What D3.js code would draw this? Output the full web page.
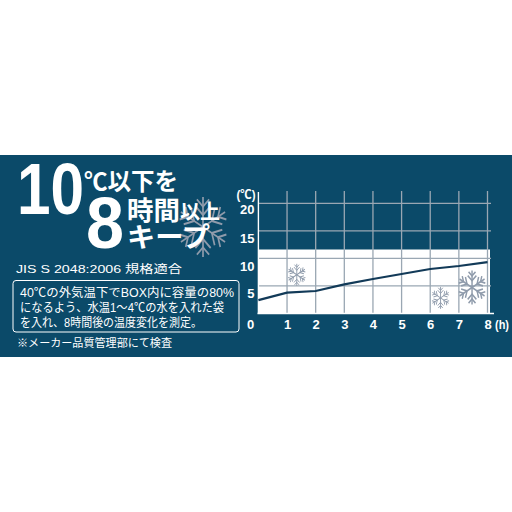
<!DOCTYPE html>
<html><head><meta charset="utf-8">
<script src="https://cdn.jsdelivr.net/npm/d3@7"></script>
<style>html,body{margin:0;background:#fff}svg{display:block}text{font-family:"Liberation Sans","Noto Sans CJK JP",sans-serif}</style>
</head><body><svg id="c" width="512" height="512"></svg>
<script>
const hours=[0,1,2,3,4,5,6,7,8];
const temps=[2.4,3.75,4.05,5.27,6.24,7.15,8.05,8.6,9.3];
const yTicks=[5,10,15,20];
const xTickLabels=["0","1","2","3","4","5","6","7","8"];
const yTickLabels=["5","10","15","20"];
const note=["40℃の外気温下でBOX内に容量の80%","になるよう、水温1～4℃の水を入れた袋","を入れ、8時間後の温度変化を測定。"];
const flakeX=[1.34,6.36,7.46];
const flakeY=[7.0,2.8,4.7];
const flakeR=[11,11,17];

const navy="#0b4a69", lineCol="#123a58", grid="#9aa7b3", flake="#8f9bab";
const svg=d3.select("#c");
svg.append("rect").attr("x",0).attr("y",155).attr("width",512).attr("height",202).attr("fill",navy);

const x=d3.scaleLinear().domain([0,8]).range([258.4,487.5]);
const y=d3.scaleLinear().domain([0,20]).range([313.3,203.3]);

function label(t,px,py,fs,opt={}){
  const s=svg.append("text").attr("x",px).attr("y",py).attr("font-size",fs).attr("fill",opt.fill||"#fff")
    .attr("font-weight",opt.w||"normal").attr("text-anchor",opt.a||"start").text(t);
  if(opt.len) s.attr("textLength",opt.len).attr("lengthAdjust","spacingAndGlyphs");
  return s;
}
function drawFlake(cx,cy,r,col,sw){
  const g=svg.append("g").attr("transform",`translate(${cx},${cy}) scale(0.85,1)`).attr("stroke",col).attr("fill","none").attr("stroke-width",sw);
  d3.range(6).forEach(i=>{
    const a=g.append("g").attr("transform",`rotate(${i*60})`);
    a.append("line").attr("x1",0).attr("y1",0).attr("x2",0).attr("y2",-r);
    [0.4,0.68].forEach(f=>{
      const b=r*(f<0.5?0.3:0.24);
      a.append("path").attr("d",`M${-b},${-r*f-b} L0,${-r*f} L${b},${-r*f-b}`);
    });
  });
}

// plot background
svg.append("rect").attr("x",x(0)).attr("y",249.5).attr("width",490-x(0)).attr("height",y(0)-249.5).attr("fill","#fff");

// grid
yTicks.forEach(v=>svg.append("line").attr("x1",x(0)).attr("x2",491).attr("y1",y(v)).attr("y2",y(v)).attr("stroke",grid).attr("stroke-width",1.2));
hours.slice(1).forEach(v=>svg.append("line").attr("x1",x(v)).attr("x2",x(v)).attr("y1",191).attr("y2",y(0)).attr("stroke",grid).attr("stroke-width",1.3));

// flakes
flakeX.forEach((v,i)=>drawFlake(x(v),y(flakeY[i]),flakeR[i],flake,i==2?1.7:1));

// axes
svg.append("line").attr("x1",x(0)).attr("x2",x(0)).attr("y1",192).attr("y2",313.5).attr("stroke","#fff").attr("stroke-width",1.4);
svg.append("line").attr("x1",257.5).attr("x2",494).attr("y1",313.5).attr("y2",313.5).attr("stroke","#fff").attr("stroke-width",1.4);

// series
svg.append("path").attr("d",d3.line().x((d,i)=>x(hours[i])).y(d=>y(d))(temps)).attr("fill","none").attr("stroke",lineCol).attr("stroke-width",2.2);

// tick labels
xTickLabels.forEach((t,i)=>label(t,i==0?250.5:x(hours[i])+0.5,329,13,{w:"bold",a:"middle"}));
yTickLabels.forEach((t,i)=>label(t,254.5,[298,271,243,214][i],13,{w:"bold",a:"end"}));
label("(℃)",255.5,199,12,{w:"bold",a:"end",len:19});
label("(h)",495,329,13,{w:"bold",len:14});

// headline
drawFlake(203,227,30,flake,2);
label("10",17,214,72,{w:"bold",len:67});
label("℃以下を",84,190,24,{w:"bold",len:94});
label("8",86,248,72,{w:"bold",len:38});
label("時間",127,220,26,{w:"bold",len:53});
label("以上",180,219,20,{w:"bold",len:40});
label("キープ",127,247,27,{w:"bold",len:83});
label("JIS S 2048:2006 規格適合",16,273,11.6,{len:166});

// note
svg.append("rect").attr("x",13).attr("y",280.5).attr("width",226).attr("height",51.5).attr("rx",3).attr("fill","none").attr("stroke","#fff").attr("stroke-width",1);
[297,312,327].forEach((py,i)=>label(note[i],20,py,12,{len:[214,204,182][i]}));
label("※メーカー品質管理部にて検査",17,347,10.8,{len:155});
</script></body></html>
